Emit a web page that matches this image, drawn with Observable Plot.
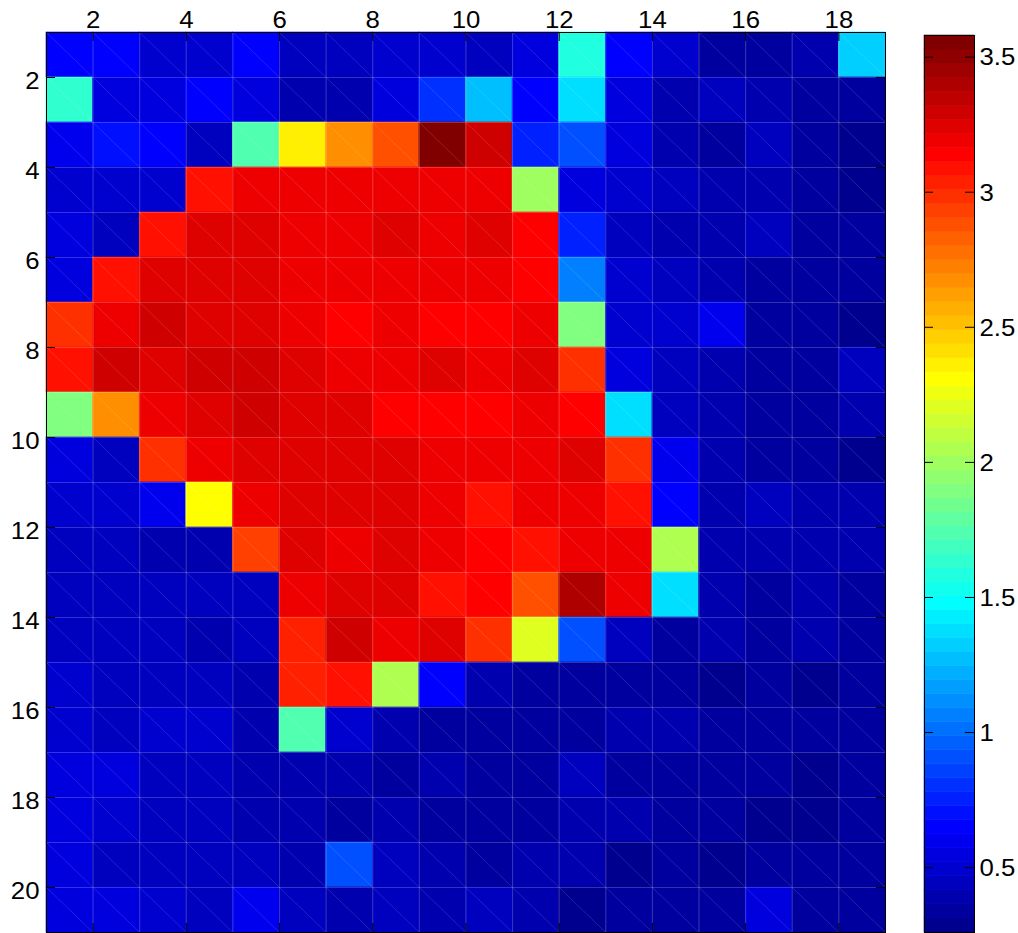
<!DOCTYPE html>
<html>
<head>
<meta charset="utf-8">
<script src="https://cdn.jsdelivr.net/npm/d3@7"></script>
<script src="https://cdn.jsdelivr.net/npm/@observablehq/plot@0.6"></script>
<style>
  html, body { margin: 0; padding: 0; background: #fff; }
  #wrap { position: relative; width: 1018px; height: 933px; overflow: hidden; font-family: "Liberation Sans", Arial, Helvetica, sans-serif; }
  #main { position: absolute; left: 0; top: 0; }
  #cbar { position: absolute; left: 920px; top: 0; }
  svg { overflow: visible; }
</style>
</head>
<body>
<div id="wrap"><div id="main"></div><div id="cbar"></div></div>
<script>
// ---- data ----
const xTicks = [2, 4, 6, 8, 10, 12, 14, 16, 18];
const yTicks = [2, 4, 6, 8, 10, 12, 14, 16, 18, 20];
const cbTicks = [0.5, 1, 1.5, 2, 2.5, 3, 3.5];
const cmin = 0.26, cmax = 3.58;

const values = [
  [0.65,0.65,0.49,0.49,0.65,0.44,0.44,0.49,0.49,0.44,0.55,1.58,0.65,0.49,0.34,0.34,0.39,1.32],
  [1.64,0.55,0.55,0.65,0.55,0.39,0.39,0.55,0.81,1.27,0.65,1.38,0.55,0.39,0.44,0.39,0.34,0.34],
  [0.60,0.70,0.65,0.44,1.74,2.36,2.67,2.88,3.56,3.30,0.75,0.91,0.55,0.39,0.34,0.44,0.34,0.29],
  [0.49,0.49,0.49,3.09,3.19,3.19,3.19,3.19,3.19,3.19,2.00,0.55,0.49,0.44,0.39,0.39,0.34,0.29],
  [0.55,0.44,3.09,3.24,3.24,3.19,3.19,3.24,3.19,3.24,3.14,0.75,0.44,0.39,0.39,0.44,0.34,0.34],
  [0.55,3.09,3.24,3.24,3.24,3.19,3.19,3.19,3.19,3.19,3.14,1.06,0.49,0.44,0.39,0.34,0.34,0.34],
  [2.98,3.19,3.30,3.24,3.24,3.19,3.14,3.19,3.14,3.14,3.19,1.89,0.49,0.49,0.60,0.34,0.34,0.29],
  [3.09,3.30,3.24,3.30,3.30,3.24,3.19,3.19,3.24,3.19,3.24,2.98,0.55,0.44,0.39,0.34,0.34,0.44],
  [1.89,2.67,3.19,3.24,3.30,3.24,3.24,3.14,3.14,3.14,3.19,3.14,1.38,0.44,0.39,0.34,0.34,0.39],
  [0.55,0.44,2.98,3.19,3.24,3.24,3.24,3.24,3.19,3.19,3.19,3.24,2.98,0.60,0.39,0.34,0.34,0.29],
  [0.49,0.49,0.60,2.31,3.19,3.24,3.24,3.24,3.19,3.09,3.19,3.19,3.09,0.65,0.39,0.44,0.39,0.39],
  [0.44,0.44,0.39,0.39,2.93,3.24,3.19,3.24,3.19,3.14,3.09,3.19,3.19,2.05,0.39,0.39,0.39,0.39],
  [0.44,0.44,0.44,0.44,0.44,3.19,3.24,3.24,3.09,3.14,2.88,3.40,3.19,1.38,0.39,0.34,0.39,0.34],
  [0.44,0.44,0.44,0.39,0.44,3.04,3.30,3.19,3.24,2.98,2.21,0.91,0.44,0.34,0.39,0.34,0.39,0.34],
  [0.49,0.44,0.44,0.44,0.39,3.04,3.09,2.05,0.65,0.39,0.34,0.34,0.34,0.34,0.29,0.34,0.29,0.34],
  [0.49,0.44,0.49,0.49,0.39,1.74,0.49,0.39,0.34,0.34,0.34,0.34,0.39,0.39,0.34,0.34,0.34,0.34],
  [0.55,0.55,0.44,0.44,0.39,0.39,0.39,0.34,0.39,0.34,0.34,0.44,0.34,0.34,0.34,0.34,0.29,0.34],
  [0.55,0.49,0.44,0.44,0.39,0.39,0.34,0.39,0.34,0.34,0.34,0.39,0.39,0.34,0.34,0.29,0.29,0.34],
  [0.55,0.44,0.44,0.44,0.44,0.39,0.91,0.44,0.39,0.34,0.39,0.39,0.29,0.34,0.29,0.34,0.34,0.34],
  [0.55,0.55,0.49,0.44,0.60,0.44,0.39,0.44,0.39,0.44,0.39,0.29,0.34,0.34,0.34,0.55,0.34,0.34]
];

// ---- layout ----
const W = 900, H = 933, mL = 46, mT = 32, mR = 15, mB = 1;
const plotW = W - mL - mR, plotH = H - mT - mB;
const tickLen = 9;
const FONT = '"Liberation Sans", Arial, Helvetica, sans-serif';
const FS = 23;
const STRETCH = 1.12;

const nRows = values.length, nCols = values[0].length;
const cells = values.flatMap((row, r) => row.map((v, c) => ({row: r + 1, col: c + 1, value: v})));

// MATLAB jet(64) colormap
const nColors = 64;
const clamp01 = t => Math.max(0, Math.min(1, t / 16));
const jet = d3.range(nColors).map(i => d3.rgb(
  Math.round(255 * clamp01(Math.min(i - 23, 71 - i))),
  Math.round(255 * clamp01(Math.min(i - 7, 55 - i))),
  Math.round(255 * clamp01(Math.min(i + 9, 39 - i)))
).formatHex());
const step = (cmax - cmin) / nColors;
const thresholds = d3.range(1, nColors).map(k => cmin + k * step);
const colorScale = {type: "threshold", domain: thresholds, range: jet};

const xEdges = d3.range(1, nCols + 2);
const yEdges = d3.range(1, nRows + 2);
const fmt = d => String(d);

const main = Plot.plot({
  width: W, height: H,
  marginLeft: mL, marginTop: mT, marginRight: mR, marginBottom: mB,
  style: {fontFamily: FONT, fontSize: FS + "px", color: "black", background: "transparent"},
  x: {domain: [1, nCols + 1], axis: null},
  y: {domain: [1, nRows + 1], reverse: true, axis: null},
  color: colorScale,
  marks: [
    Plot.rect(cells, {x1: "col", x2: d => d.col + 1, y1: "row", y2: d => d.row + 1, fill: "value", stroke: "value", strokeWidth: 0.6}),
    Plot.ruleX(xEdges, {x: d => d, stroke: "white", strokeOpacity: 0.2, strokeWidth: 1}),
    Plot.ruleY(yEdges, {y: d => d, stroke: "white", strokeOpacity: 0.2, strokeWidth: 1}),
    Plot.link(cells, {x1: "col", y1: "row", x2: d => d.col + 1, y2: d => d.row + 1, stroke: "white", strokeOpacity: 0.22, strokeWidth: 0.6}),
    Plot.tickX(xTicks, {x: d => d, stroke: "black", insetBottom: plotH - tickLen}),
    Plot.tickX(xTicks, {x: d => d, stroke: "black", insetTop: plotH - tickLen}),
    Plot.tickY(yTicks, {y: d => d, stroke: "black", insetRight: plotW - tickLen}),
    Plot.tickY(yTicks, {y: d => d, stroke: "black", insetLeft: plotW - tickLen}),
    Plot.axisX(xTicks, {anchor: "top", tickSize: 0, tickPadding: 5, fontSize: FS, label: null, tickFormat: fmt}),
    Plot.axisY(yTicks, {anchor: "left", tickSize: 0, tickPadding: 7, dy: 4, fontSize: FS, label: null, tickFormat: fmt}),
    Plot.frame({stroke: "black"})
  ]
});
document.getElementById("main").append(main);

// ---- colorbar ----
const bins = d3.range(nColors).map(k => ({lo: cmin + k * step, hi: cmin + (k + 1) * step, mid: cmin + (k + 0.5) * step}));
const cbW = 98, cbL = 4, cbBar = 50, cbT = 35, cbB = 1;
const cb = Plot.plot({
  width: cbW, height: H,
  marginLeft: cbL, marginRight: cbW - cbL - cbBar, marginTop: cbT, marginBottom: cbB,
  style: {fontFamily: FONT, fontSize: FS + "px", color: "black", background: "transparent"},
  x: {domain: [0, 1], axis: null},
  y: {domain: [cmin, cmax], axis: null},
  color: colorScale,
  marks: [
    Plot.rect(bins, {x1: 0, x2: 1, y1: "lo", y2: "hi", fill: "mid", stroke: "mid", strokeWidth: 0.6}),
    Plot.tickY(cbTicks, {y: d => d, stroke: "black", insetRight: cbBar - tickLen}),
    Plot.tickY(cbTicks, {y: d => d, stroke: "black", insetLeft: cbBar - tickLen}),
    Plot.axisY(cbTicks, {anchor: "right", tickSize: 0, tickPadding: 5, dy: 1, fontSize: FS, label: null, tickFormat: fmt}),
    Plot.frame({stroke: "black"})
  ]
});
document.getElementById("cbar").append(cb);

// widen tick labels horizontally to match the reference's broad glyphs
document.querySelectorAll("#wrap svg text").forEach(t => {
  const len = t.getComputedTextLength();
  if (len > 0) {
    t.setAttribute("textLength", (len * STRETCH).toFixed(2));
    t.setAttribute("lengthAdjust", "spacingAndGlyphs");
  }
});
</script>
</body>
</html>
